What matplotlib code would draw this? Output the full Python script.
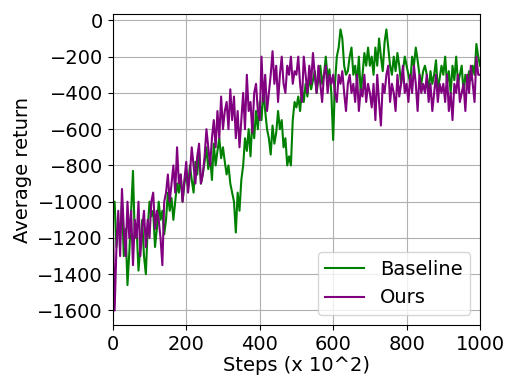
import numpy as np
import matplotlib
matplotlib.use('Agg')
import matplotlib.pyplot as plt

# Steps (x 10^2), one sample every 5
steps = np.arange(0, 1001, 5)

baseline = [
    -1050, -1000, -1250, -1120, -1180, -1000, -1300, -1150, -1460, -1280,
    -1050, -830, -1200, -1150, -1380, -1250, -1100, -1300, -1400, -1150,
    -1000, -1080, -1050, -1250, -1150, -1000, -1100, -1050, -1180, -1100,
    -950, -1050, -980, -1100, -1000, -900, -950, -850, -1000, -900,
    -850, -920, -800, -880, -950, -780, -850, -720, -900, -850,
    -780, -700, -820, -750, -880, -680, -800, -720, -650, -760,
    -700, -780, -850, -800, -900, -950, -1000, -1170, -950, -1050,
    -880, -800, -650, -720, -600, -750, -550, -650, -500, -600,
    -450, -550, -380, -500, -600, -650, -740, -580, -680, -620,
    -500, -600, -550, -700, -650, -800, -750, -800, -550, -450,
    -480, -420, -500, -380, -450, -350, -420, -300, -380, -330,
    -280, -400, -320, -250, -350, -300, -200, -320, -270, -400,
    -660, -350, -200, -150, -50, -100, -250, -300, -280, -200,
    -150, -300, -250, -350, -200, -400, -300, -180, -250, -150,
    -250, -200, -300, -150, -250, -100, -200, -280, -120, -50,
    -150, -250, -300, -200, -280, -180, -250, -350, -280, -200,
    -250, -300, -350, -200, -250, -150, -220, -300, -350, -280,
    -250, -300, -400, -280, -350, -300, -220, -380, -320, -250,
    -300, -200, -350, -280, -400, -250, -330, -200, -350, -300,
    -250, -400, -300, -350, -280, -330, -250, -300, -130, -200,
    -250,
]

ours = [
    -1100, -1600, -1250, -1050, -1300, -930, -1150, -1300, -1000, -1200,
    -1050, -1350, -1100, -1200, -1000, -1300, -1150, -1050, -1250, -1100,
    -1200, -1000, -950, -1150, -1050, -1100, -1200, -1350, -1000, -950,
    -850, -1000, -900, -800, -950, -700, -900, -850, -1000, -880,
    -780, -950, -850, -700, -800, -900, -750, -680, -900, -850,
    -750, -600, -700, -800, -650, -550, -700, -500, -650, -420,
    -600, -500, -450, -600, -380, -550, -420, -650, -500, -700,
    -550, -400, -600, -300, -500, -450, -620, -400, -350, -500,
    -550, -200, -450, -300, -500, -400, -300, -170, -350, -250,
    -450, -300, -200, -350, -400, -250, -300, -200, -350, -280,
    -300, -200, -350, -450, -200, -300, -400, -250, -350, -180,
    -300, -400, -250, -350, -450, -300, -250, -400, -300, -350,
    -300, -400, -450, -300, -350, -280, -400, -500, -350, -300,
    -400, -350, -450, -300, -500, -380, -420, -300, -450, -350,
    -400, -480, -350, -550, -300, -450, -580, -350, -400, -300,
    -250, -450, -350, -400, -500, -300, -420, -350, -250, -400,
    -350, -450, -300, -400, -250, -350, -500, -300, -400, -350,
    -400, -300, -450, -350, -500, -400, -300, -450, -350, -400,
    -350, -450, -300, -500, -400, -550, -350, -400, -300, -450,
    -400, -350, -500, -300, -400, -250, -350, -450, -200, -300,
    -300,
]

plt.rcParams['font.size'] = 14

fig = plt.figure(figsize=(5.08, 3.79), dpi=100)
ax = fig.add_axes([0.222, 0.1425, 0.723, 0.8205])
ax.plot(steps, baseline, color='green', linewidth=1.5, label='Baseline')
ax.plot(steps, ours, color='purple', linewidth=1.5, label='Ours')

ax.set_xlim(0, 1000)
ax.set_ylim(-1680, 35)
ax.set_xticks([0, 200, 400, 600, 800, 1000])
ax.set_yticks(np.arange(-1600, 1, 200))
ax.grid(True)
ax.set_xlabel('Steps (x 10^2)', labelpad=2)
ax.set_ylabel('Average return')
ax.legend(loc='lower right')

fig.savefig('out.png', dpi=100)
